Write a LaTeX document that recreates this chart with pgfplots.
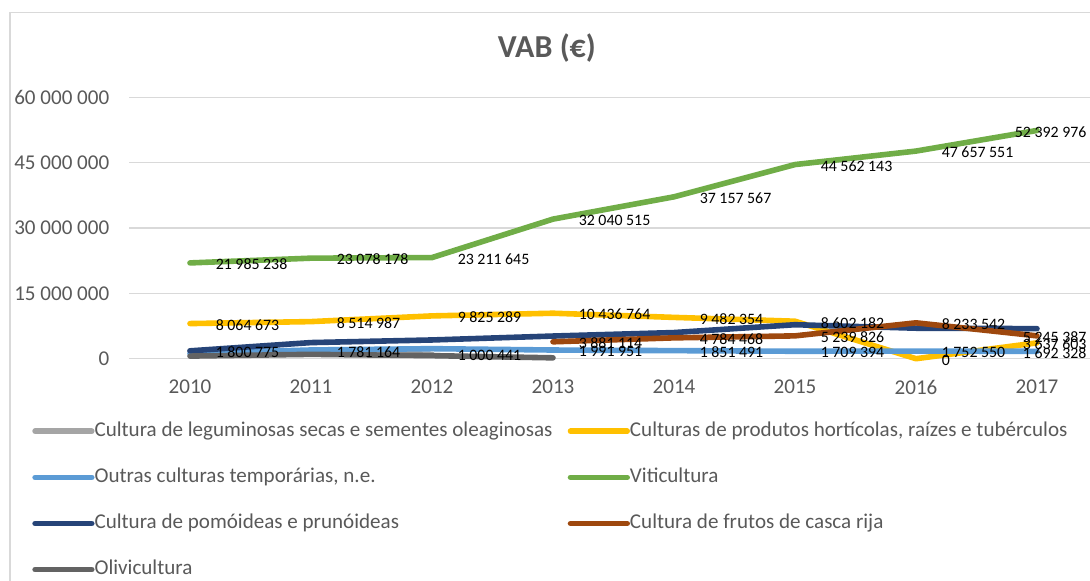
\documentclass[border=0pt]{standalone}
\usepackage{fontspec}
\setmainfont{Carlito}
\usepackage{pgfplots}
\pgfplotsset{compat=1.18}
\definecolor{cleg}{HTML}{A5A5A5}
\definecolor{chor}{HTML}{FFC000}
\definecolor{cout}{HTML}{5B9BD5}
\definecolor{cvit}{HTML}{70AD47}
\definecolor{cpom}{HTML}{264478}
\definecolor{cfru}{HTML}{9E480E}
\definecolor{coli}{HTML}{636363}
\definecolor{cgrid}{HTML}{D9D9D9}
\definecolor{ctxt}{HTML}{595959}
\begin{document}
\begin{tikzpicture}
\begin{axis}[
  name=ax, at={(0,0)}, anchor=south west,
  scale only axis, width=726pt, height=196.05pt,
  xmin=2009.5, xmax=2017.5, ymin=0, ymax=60000000,
  clip=false,
  axis line style={draw=none},
  major tick length=0pt,
  xtick={2010,2011,2012,2013,2014,2015,2016,2017},
  xticklabels={2010,2011,2012,2013,2014,2015,2016,2017},
  ytick={0,15000000,30000000,45000000,60000000},
  yticklabels={0,15 000 000,30 000 000,45 000 000,60 000 000},
  scaled y ticks=false,
  ymajorgrids, grid style={cgrid, line width=0.9pt},
  ticklabel style={font=\fontsize{15.8}{19}\selectfont, text=ctxt, inner sep=0pt},
  yticklabel style={anchor=east, xshift=-15pt},
  xticklabel style={anchor=north, yshift=-16pt},
  every axis plot/.append style={line width=4.2pt, line join=round, line cap=round},
  legend columns=2,
  legend cell align=left,
  legend image code/.code={\draw[line width=3.8pt, line cap=round] (1.9pt,0pt) -- (40.1pt,0pt); \path (0pt,0pt) -- (42.5pt,0pt);},
  legend style={draw=none, fill=none, at={(-0.1007,-0.2383)}, anchor=north west,
    font=\fontsize{15.8}{19}\selectfont, text=ctxt, inner sep=0pt, row sep=19.6pt,
    nodes={inner sep=0pt, text height=11.5pt, text depth=3.5pt},
    /tikz/every even column/.append style={column sep=11.5pt}},
  nodes near coords style={anchor=west, inner sep=0pt, xshift=17.25pt, yshift=-1.1pt,
    font=\fontsize{11.9}{14}\selectfont, text=black},
]
\addplot[cleg] coordinates {(2010,1800775)(2011,1781164)(2012,1000441)};
\addlegendentry{Cultura de leguminosas secas e sementes oleaginosas}
\addplot[chor] coordinates {(2010,8064673)(2011,8514987)(2012,9825289)(2013,10436764)(2014,9482354)(2015,8602182)(2016,0)(2017,3637603)};
\addlegendentry{Culturas de produtos hortícolas, raízes e tubérculos}
\addplot[cout] coordinates {(2010,1200000)(2011,2000000)(2012,2300000)(2013,1991951)(2014,1851491)(2015,1709394)(2016,1752550)(2017,1692328)};
\addlegendentry{Outras culturas temporárias, n.e.}
\addplot[cvit] coordinates {(2010,21985238)(2011,23078178)(2012,23211645)(2013,32040515)(2014,37157567)(2015,44562143)(2016,47657551)(2017,52392976)};
\addlegendentry{Viticultura}
\addplot[cpom] coordinates {(2010,1800775)(2011,3700000)(2012,4300000)(2013,5200000)(2014,6000000)(2015,7800000)(2016,7000000)(2017,6900000)};
\addlegendentry{Cultura de pomóideas e prunóideas}
\addplot[cfru] coordinates {(2013,3881114)(2014,4784468)(2015,5239826)(2016,8233542)(2017,5245387)};
\addlegendentry{Cultura de frutos de casca rija}
\addplot[coli] coordinates {(2010,600000)(2011,1000000)(2012,700000)(2013,200000)};
\addlegendentry{Olivicultura}
% data labels
\addplot[draw=none, forget plot, nodes near coords, point meta=explicit symbolic]
  coordinates {(2010,1800775)[1 800 775] (2011,1781164)[1 781 164] (2012,1000441)[1 000 441]};
\addplot[draw=none, forget plot, nodes near coords, point meta=explicit symbolic]
  coordinates {(2010,8064673)[8 064 673] (2011,8514987)[8 514 987] (2012,9825289)[9 825 289] (2013,10436764)[10 436 764] (2014,9482354)[9 482 354] (2015,8602182)[8 602 182] (2016,0)[0]};
\addplot[draw=none, forget plot, nodes near coords, point meta=explicit symbolic]
  coordinates {(2013,1991951)[1 991 951] (2014,1851491)[1 851 491] (2015,1709394)[1 709 394] (2016,1752550)[1 752 550]};
\addplot[draw=none, forget plot, nodes near coords, point meta=explicit symbolic]
  coordinates {(2010,21985238)[21 985 238] (2011,23078178)[23 078 178] (2012,23211645)[23 211 645] (2013,32040515)[32 040 515] (2014,37157567)[37 157 567] (2015,44562143)[44 562 143] (2016,47657551)[47 657 551]};
\addplot[draw=none, forget plot, nodes near coords, point meta=explicit symbolic]
  coordinates {(2013,3881114)[3 881 114] (2014,4784468)[4 784 468] (2015,5239826)[5 239 826] (2016,8233542)[8 233 542]};
\addplot[draw=none, forget plot, nodes near coords, point meta=explicit symbolic,
  nodes near coords style={anchor=east, xshift=21.9pt}]
  coordinates {(2017,52392976)[52 392 976] (2017,3637603)[3 637 603] (2017,5245387)[5 245 387] (2017,1692328)[1 692 328]};
\end{axis}
\node[font=\fontsize{24}{29}\selectfont\bfseries, text=ctxt] at (313.1pt,233pt) {VAB (€)};
\draw[cgrid, line width=0.8pt] (-89.6pt,-200pt) -- (-89.6pt,259.5pt) -- (800pt,259.5pt);
\pgfresetboundingbox
\useasboundingbox (-97.125pt,-166.725pt) rectangle (720.375pt,269.025pt);
\end{tikzpicture}
\end{document}
